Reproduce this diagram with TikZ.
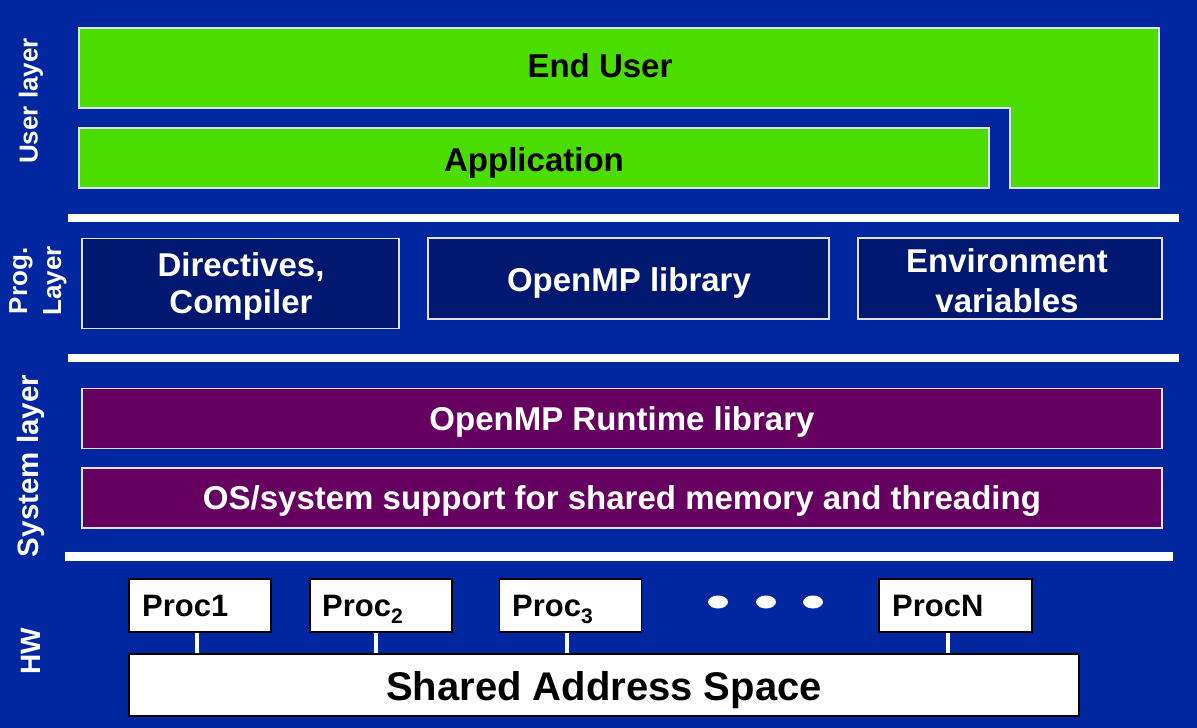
\documentclass[tikz,border=0pt]{standalone}
\usepackage{fontspec}
\setmainfont{Liberation Sans}
\usetikzlibrary{calc,shapes.geometric}
\definecolor{bgblue}{RGB}{0,38,160}
\definecolor{ugreen}{RGB}{76,221,0}
\definecolor{navy}{RGB}{0,24,112}
\definecolor{purp}{RGB}{102,0,96}
\definecolor{edgegray}{RGB}{225,225,235}
\newcommand{\psub}[1]{\raisebox{-7pt}{\fontsize{21}{21}\selectfont #1}}
\tikzset{
  box/.style={rectangle, inner sep=0pt, draw=edgegray, line width=1.5pt, align=center},
  big/.style={font=\fontsize{33}{37}\selectfont\bfseries},
  oneline/.style={text height=23.8pt, text depth=0pt},
  greenbox/.style={box, fill=ugreen},
  navybox/.style={box, fill=navy},
  purpbox/.style={box, fill=purp},
  btext/.style={big, inner sep=0pt, text=black, oneline},
  wtext/.style={big, inner sep=0pt, text=white, oneline},
  wtwo/.style={big, inner sep=0pt, text=white, align=center},
  procbox/.style={box, draw=black, line width=1.5pt, fill=white, minimum width=142pt, minimum height=53pt},
  proctext/.style={text=black, anchor=base west, inner sep=0pt, font=\fontsize{31}{34}\selectfont\bfseries},
  sidelabel/.style={rotate=90, text=white, align=center, font=\fontsize{26}{34}\selectfont\bfseries},
  bar/.style={fill=white, draw=none},
  conn/.style={draw=white, line width=4pt},
  dot/.style={ellipse, fill=white, draw=none, minimum width=20pt, minimum height=13pt, inner sep=0pt}
}
\begin{document}
\begin{tikzpicture}[x=1pt,y=-1pt]
\fill[bgblue] (0,0) rectangle (1197,728);
\useasboundingbox (0,0) rectangle (1197,728);
% side labels
\node[sidelabel] (ul) at (31,101) {User layer};
\node[sidelabel, font=\fontsize{26}{34}\selectfont\bfseries] (pl) at (38,281) {Prog.\\Layer};
\node[sidelabel, font=\fontsize{29.5}{34}\selectfont\bfseries] (sl) at (31,466) {System layer};
\node[sidelabel, font=\fontsize{28}{34}\selectfont\bfseries] (hw) at (31,651) {HW};
% user layer
\draw[fill=ugreen, draw=edgegray, line width=1.5pt] (79,28) -- (1159,28) -- (1159,188) -- (1010,188) -- (1010,108) -- (79,108) -- cycle;
\node[btext] (eu) at (600,66) {End User};
\node[greenbox, minimum width=910pt, minimum height=60pt] (app) at (534,158) {};
\node[btext] (appt) at (534,160) {Application};
% bars
\fill[bar] (68,214) rectangle (1179,222);
\fill[bar] (68,354) rectangle (1179,362);
\fill[bar] (65,552) rectangle (1173,561);
% prog layer
\node[navybox, minimum width=317pt, minimum height=90pt] (dir) at (240.5,283.5) {};
\node[wtwo] (dirt) at (241,286) {Directives,\\Compiler};
\node[navybox, minimum width=401pt, minimum height=81pt] (lib) at (628.5,278.5) {};
\node[wtext] (libt) at (629,280) {OpenMP library};
\node[navybox, minimum width=304pt, minimum height=81pt] (env) at (1010,278.5) {};
\node[wtwo, font=\fontsize{33}{40}\selectfont\bfseries] (envt) at (1007,281) {Environment\\variables};
% system layer
\node[purpbox, minimum width=1080pt, minimum height=60pt] (rt) at (622,418.5) {};
\node[wtext] (rtt) at (622,419) {OpenMP Runtime library};
\node[purpbox, minimum width=1080pt, minimum height=60pt] (os) at (622,498) {};
\node[wtext] (ost) at (622,498) {OS/system support for shared memory and threading};
% HW
\node[procbox] (p1) at (200,605.5) {};
\node[procbox] (p2) at (381,605.5) {};
\node[procbox] (p3) at (570.5,605.5) {};
\node[procbox, minimum width=153pt] (pn) at (955.5,605.5) {};
\node[proctext] (t1) at (142,616) {Proc1};
\node[proctext] (t2) at (322,616) {Proc\psub{2}};
\node[proctext] (t3) at (512,616) {Proc\psub{3}};
\node[proctext] (tn) at (892,616) {ProcN};
\node[dot] (d1) at (718,602) {};
\node[dot] (d2) at (766,602) {};
\node[dot] (d3) at (813,602) {};
\node[procbox, minimum width=950pt, minimum height=62pt] (sas) at (604,685) {};
\node[inner sep=0pt, text=black, text height=28.8pt, text depth=0pt, font=\fontsize{40}{44}\selectfont\bfseries] (sast) at (604,686) {Shared Address Space};
\draw[conn] ([xshift=-3pt]p1.south) -- ([xshift=-3pt]p1.south |- sas.north);
\draw[conn] ([xshift=-5pt]p2.south) -- ([xshift=-5pt]p2.south |- sas.north);
\draw[conn] ([xshift=-4pt]p3.south) -- ([xshift=-4pt]p3.south |- sas.north);
\draw[conn] ([xshift=-8pt]pn.south) -- ([xshift=-8pt]pn.south |- sas.north);
\end{tikzpicture}
\end{document}
